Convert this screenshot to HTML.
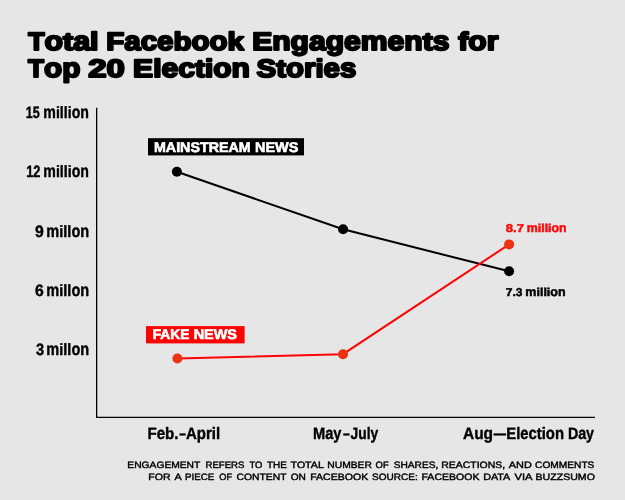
<!DOCTYPE html>
<html>
<head>
<meta charset="utf-8">
<title>Total Facebook Engagements for Top 20 Election Stories</title>
<style>
html,body{margin:0;padding:0;background:#e6e6e6;}
body{width:625px;height:500px;overflow:hidden;position:relative;font-family:"Liberation Sans",sans-serif;}
svg{position:absolute;left:0;top:0;display:block;will-change:transform;}
text{font-family:"Liberation Sans",sans-serif;font-weight:bold;text-rendering:geometricPrecision;white-space:pre;}
.title{font-size:25.1px;fill:#000;stroke:#000;stroke-width:2px;stroke-linejoin:round;}
.ylab{font-size:16.4px;fill:#000;stroke:#000;stroke-width:0.4px;}
.xlab{font-size:16.5px;fill:#000;stroke:#000;stroke-width:0.4px;}
.tag{font-size:14.0px;fill:#fff;stroke:#fff;stroke-width:0.6px;}
.val{font-size:11.3px;stroke-width:0.5px;}
.vr{fill:#fb0a0a;stroke:#fb0a0a;}
.vb{fill:#000;stroke:#000;}
.foot{font-size:9.3px;fill:#000;font-weight:normal;stroke:#000;stroke-width:0.42px;}
.title .x{font-size:26.69px;}
.ylab .x{font-size:17.60px;}
.val .x{font-size:12.77px;}
.xlab .x{font-size:17.19px;}
</style>
</head>
<body>
<svg width="625" height="500" viewBox="0 0 625 500">
  <!-- title -->
  <text class="title" y="50"><tspan x="28.26" textLength="16.31" lengthAdjust="spacingAndGlyphs">T</tspan><tspan class="x" x="44.57" textLength="18.57" lengthAdjust="spacingAndGlyphs">o</tspan><tspan x="63.12" textLength="10.14" lengthAdjust="spacingAndGlyphs">t</tspan><tspan class="x" x="73.24" textLength="16.92" lengthAdjust="spacingAndGlyphs">a</tspan><tspan x="90.14" textLength="8.47" lengthAdjust="spacingAndGlyphs">l</tspan> <tspan x="106.20" textLength="18.05" lengthAdjust="spacingAndGlyphs">F</tspan><tspan class="x" x="124.25" textLength="49.27" lengthAdjust="spacingAndGlyphs">ace</tspan><tspan x="173.50" textLength="18.06" lengthAdjust="spacingAndGlyphs">b</tspan><tspan class="x" x="191.54" textLength="36.07" lengthAdjust="spacingAndGlyphs">oo</tspan><tspan x="227.60" textLength="16.44" lengthAdjust="spacingAndGlyphs">k</tspan> <tspan x="252.16" textLength="20.09" lengthAdjust="spacingAndGlyphs">E</tspan><tspan class="x" x="272.24" textLength="150.49" lengthAdjust="spacingAndGlyphs">ngagemen</tspan><tspan x="422.71" textLength="10.04" lengthAdjust="spacingAndGlyphs">t</tspan><tspan class="x" x="432.74" textLength="16.76" lengthAdjust="spacingAndGlyphs">s</tspan> <tspan x="458.26" textLength="10.02" lengthAdjust="spacingAndGlyphs">f</tspan><tspan class="x" x="468.27" textLength="30.08" lengthAdjust="spacingAndGlyphs">or</tspan></text>
  <text class="title" y="77"><tspan x="27.94" textLength="15.99" lengthAdjust="spacingAndGlyphs">T</tspan><tspan class="x" x="43.93" textLength="36.42" lengthAdjust="spacingAndGlyphs">op</tspan> <tspan x="88.17" textLength="36.57" lengthAdjust="spacingAndGlyphs">20</tspan> <tspan x="133.13" textLength="28.38" lengthAdjust="spacingAndGlyphs">El</tspan><tspan class="x" x="161.50" textLength="33.42" lengthAdjust="spacingAndGlyphs">ec</tspan><tspan x="194.91" textLength="18.35" lengthAdjust="spacingAndGlyphs">ti</tspan><tspan class="x" x="213.24" textLength="36.71" lengthAdjust="spacingAndGlyphs">on</tspan> <tspan x="256.58" textLength="29.42" lengthAdjust="spacingAndGlyphs">St</tspan><tspan class="x" x="286.00" textLength="29.42" lengthAdjust="spacingAndGlyphs">or</tspan><tspan x="315.41" textLength="8.18" lengthAdjust="spacingAndGlyphs">i</tspan><tspan class="x" x="323.59" textLength="32.74" lengthAdjust="spacingAndGlyphs">es</tspan></text>

  <!-- axes -->
  <path d="M96.65 107.8 V417.3 H595" fill="none" stroke="#000" stroke-width="1.3"/>

  <!-- y labels -->
  <text class="ylab" y="118"><tspan x="25.73" textLength="14.04" lengthAdjust="spacingAndGlyphs">15</tspan> <tspan class="x" x="43.33" textLength="12.58" lengthAdjust="spacingAndGlyphs">m</tspan><tspan x="55.91" textLength="15.73" lengthAdjust="spacingAndGlyphs">illi</tspan><tspan class="x" x="71.64" textLength="17.30" lengthAdjust="spacingAndGlyphs">on</tspan></text>
  <text class="ylab" y="177"><tspan x="26.18" textLength="14.29" lengthAdjust="spacingAndGlyphs">12</tspan> <tspan class="x" x="43.33" textLength="12.58" lengthAdjust="spacingAndGlyphs">m</tspan><tspan x="55.91" textLength="15.73" lengthAdjust="spacingAndGlyphs">illi</tspan><tspan class="x" x="71.64" textLength="17.30" lengthAdjust="spacingAndGlyphs">on</tspan></text>
  <text class="ylab" y="237"><tspan x="35.00" textLength="8.77" lengthAdjust="spacingAndGlyphs">9</tspan> <tspan class="x" x="46.31" textLength="12.94" lengthAdjust="spacingAndGlyphs">m</tspan><tspan x="59.25" textLength="12.14" lengthAdjust="spacingAndGlyphs">ill</tspan><tspan class="x" x="71.38" textLength="17.78" lengthAdjust="spacingAndGlyphs">on</tspan></text>
  <text class="ylab" y="296"><tspan x="35.12" textLength="8.76" lengthAdjust="spacingAndGlyphs">6</tspan> <tspan class="x" x="46.31" textLength="12.94" lengthAdjust="spacingAndGlyphs">m</tspan><tspan x="59.25" textLength="12.14" lengthAdjust="spacingAndGlyphs">ill</tspan><tspan class="x" x="71.38" textLength="17.78" lengthAdjust="spacingAndGlyphs">on</tspan></text>
  <text class="ylab" y="355"><tspan x="35.90" textLength="8.10" lengthAdjust="spacingAndGlyphs">3</tspan> <tspan class="x" x="46.31" textLength="12.94" lengthAdjust="spacingAndGlyphs">m</tspan><tspan x="59.25" textLength="12.14" lengthAdjust="spacingAndGlyphs">ill</tspan><tspan class="x" x="71.38" textLength="17.78" lengthAdjust="spacingAndGlyphs">on</tspan></text>

  <!-- x labels -->
  <text class="xlab" y="439"><tspan x="147.41" textLength="9.23" lengthAdjust="spacingAndGlyphs">F</tspan><tspan class="x" x="156.64" textLength="8.41" lengthAdjust="spacingAndGlyphs">e</tspan><tspan x="165.04" textLength="13.43" lengthAdjust="spacingAndGlyphs">b.</tspan><tspan x="179.13" textLength="6.67" lengthAdjust="spacingAndGlyphs">–</tspan><tspan x="186.00" textLength="10.82" lengthAdjust="spacingAndGlyphs">A</tspan><tspan class="x" x="196.82" textLength="14.99" lengthAdjust="spacingAndGlyphs">pr</tspan><tspan x="211.80" textLength="8.33" lengthAdjust="spacingAndGlyphs">il</tspan></text>
  <text class="xlab" y="439"><tspan x="313.10" textLength="12.15" lengthAdjust="spacingAndGlyphs">M</tspan><tspan class="x" x="325.25" textLength="16.23" lengthAdjust="spacingAndGlyphs">ay</tspan><tspan x="343.00" textLength="6.72" lengthAdjust="spacingAndGlyphs">–</tspan><tspan x="350.59" textLength="7.67" lengthAdjust="spacingAndGlyphs">J</tspan><tspan class="x" x="358.26" textLength="8.43" lengthAdjust="spacingAndGlyphs">u</tspan><tspan x="366.69" textLength="3.83" lengthAdjust="spacingAndGlyphs">l</tspan><tspan class="x" x="370.51" textLength="7.68" lengthAdjust="spacingAndGlyphs">y</tspan></text>
  <text class="xlab" y="439"><tspan x="462.95" textLength="11.19" lengthAdjust="spacingAndGlyphs">A</tspan><tspan class="x" x="474.14" textLength="18.93" lengthAdjust="spacingAndGlyphs">ug</tspan><tspan x="493.63" textLength="12.19" lengthAdjust="spacingAndGlyphs">—</tspan><tspan x="506.31" textLength="14.01" lengthAdjust="spacingAndGlyphs">El</tspan><tspan class="x" x="520.31" textLength="16.50" lengthAdjust="spacingAndGlyphs">ec</tspan><tspan x="536.80" textLength="9.06" lengthAdjust="spacingAndGlyphs">ti</tspan><tspan class="x" x="545.85" textLength="18.12" lengthAdjust="spacingAndGlyphs">on</tspan> <tspan x="567.95" textLength="10.26" lengthAdjust="spacingAndGlyphs">D</tspan><tspan class="x" x="578.22" textLength="15.81" lengthAdjust="spacingAndGlyphs">ay</tspan></text>

  <!-- lines -->
  <polyline points="176.9,171.8 343.1,229.3 509.1,271.3" fill="none" stroke="#000" stroke-width="2"/>
  <polyline points="177.4,358.5 343,354.2 509.1,244.4" fill="none" stroke="#fd0505" stroke-width="2"/>
  <circle cx="176.9" cy="171.8" r="5" fill="#000"/>
  <circle cx="343.1" cy="229.3" r="5" fill="#000"/>
  <circle cx="509.1" cy="271.3" r="5" fill="#000"/>
  <circle cx="177.4" cy="358.5" r="5" fill="#ec3213"/>
  <circle cx="343" cy="354.2" r="5" fill="#ec3213"/>
  <circle cx="509.1" cy="244.4" r="5" fill="#ec3213"/>

  <!-- tags -->
  <rect x="148" y="138.2" width="156" height="17.2" fill="#000"/>
  <rect x="146" y="326.1" width="98.6" height="17.3" fill="#fd0303"/>
  <text class="tag" y="152"><tspan x="153.99" textLength="96.64" lengthAdjust="spacingAndGlyphs">MAINSTREAM</tspan> <tspan x="254.97" textLength="43.30" lengthAdjust="spacingAndGlyphs">NEWS</tspan></text>
  <text class="tag" y="339"><tspan x="152.69" textLength="36.66" lengthAdjust="spacingAndGlyphs">FAKE</tspan> <tspan x="193.70" textLength="43.30" lengthAdjust="spacingAndGlyphs">NEWS</tspan></text>

  <!-- values -->
  <text class="val vr" y="232"><tspan x="505.81" textLength="18.19" lengthAdjust="spacingAndGlyphs">8.7</tspan> <tspan class="x" x="526.74" textLength="11.02" lengthAdjust="spacingAndGlyphs">m</tspan><tspan x="537.76" textLength="13.77" lengthAdjust="spacingAndGlyphs">illi</tspan><tspan class="x" x="551.53" textLength="15.14" lengthAdjust="spacingAndGlyphs">on</tspan></text>
  <text class="val vb" y="296"><tspan x="505.87" textLength="16.68" lengthAdjust="spacingAndGlyphs">7.3</tspan> <tspan class="x" x="525.34" textLength="11.11" lengthAdjust="spacingAndGlyphs">m</tspan><tspan x="536.45" textLength="13.89" lengthAdjust="spacingAndGlyphs">illi</tspan><tspan class="x" x="550.32" textLength="15.27" lengthAdjust="spacingAndGlyphs">on</tspan></text>

  <!-- footer -->
  <text class="foot" y="468"><tspan x="127.35" textLength="72.76" lengthAdjust="spacingAndGlyphs">ENGAGEMENT</tspan> <tspan x="205.50" textLength="38.91" lengthAdjust="spacingAndGlyphs">REFERS</tspan> <tspan x="249.49" textLength="12.90" lengthAdjust="spacingAndGlyphs">TO</tspan> <tspan x="267.00" textLength="19.94" lengthAdjust="spacingAndGlyphs">THE</tspan> <tspan x="290.60" textLength="32.80" lengthAdjust="spacingAndGlyphs">TOTAL</tspan> <tspan x="327.33" textLength="44.54" lengthAdjust="spacingAndGlyphs">NUMBER</tspan> <tspan x="375.64" textLength="13.13" lengthAdjust="spacingAndGlyphs">OF</tspan> <tspan x="393.67" textLength="44.67" lengthAdjust="spacingAndGlyphs">SHARES,</tspan> <tspan x="441.28" textLength="63.78" lengthAdjust="spacingAndGlyphs">REACTIONS,</tspan> <tspan x="508.86" textLength="22.89" lengthAdjust="spacingAndGlyphs">AND</tspan> <tspan x="535.08" textLength="59.31" lengthAdjust="spacingAndGlyphs">COMMENTS</tspan></text>
  <text class="foot" y="480"><tspan x="148.26" textLength="22.33" lengthAdjust="spacingAndGlyphs">FOR</tspan> <tspan x="174.43" textLength="6.65" lengthAdjust="spacingAndGlyphs">A</tspan> <tspan x="185.00" textLength="29.27" lengthAdjust="spacingAndGlyphs">PIECE</tspan> <tspan x="219.20" textLength="12.88" lengthAdjust="spacingAndGlyphs">OF</tspan> <tspan x="236.47" textLength="49.79" lengthAdjust="spacingAndGlyphs">CONTENT</tspan> <tspan x="290.68" textLength="15.20" lengthAdjust="spacingAndGlyphs">ON</tspan> <tspan x="310.19" textLength="57.99" lengthAdjust="spacingAndGlyphs">FACEBOOK</tspan> <tspan x="372.05" textLength="45.71" lengthAdjust="spacingAndGlyphs">SOURCE:</tspan> <tspan x="421.52" textLength="57.95" lengthAdjust="spacingAndGlyphs">FACEBOOK</tspan> <tspan x="483.21" textLength="26.50" lengthAdjust="spacingAndGlyphs">DATA</tspan> <tspan x="514.44" textLength="17.44" lengthAdjust="spacingAndGlyphs">VIA</tspan> <tspan x="535.51" textLength="59.43" lengthAdjust="spacingAndGlyphs">BUZZSUMO</tspan></text>
</svg>
</body>
</html>
